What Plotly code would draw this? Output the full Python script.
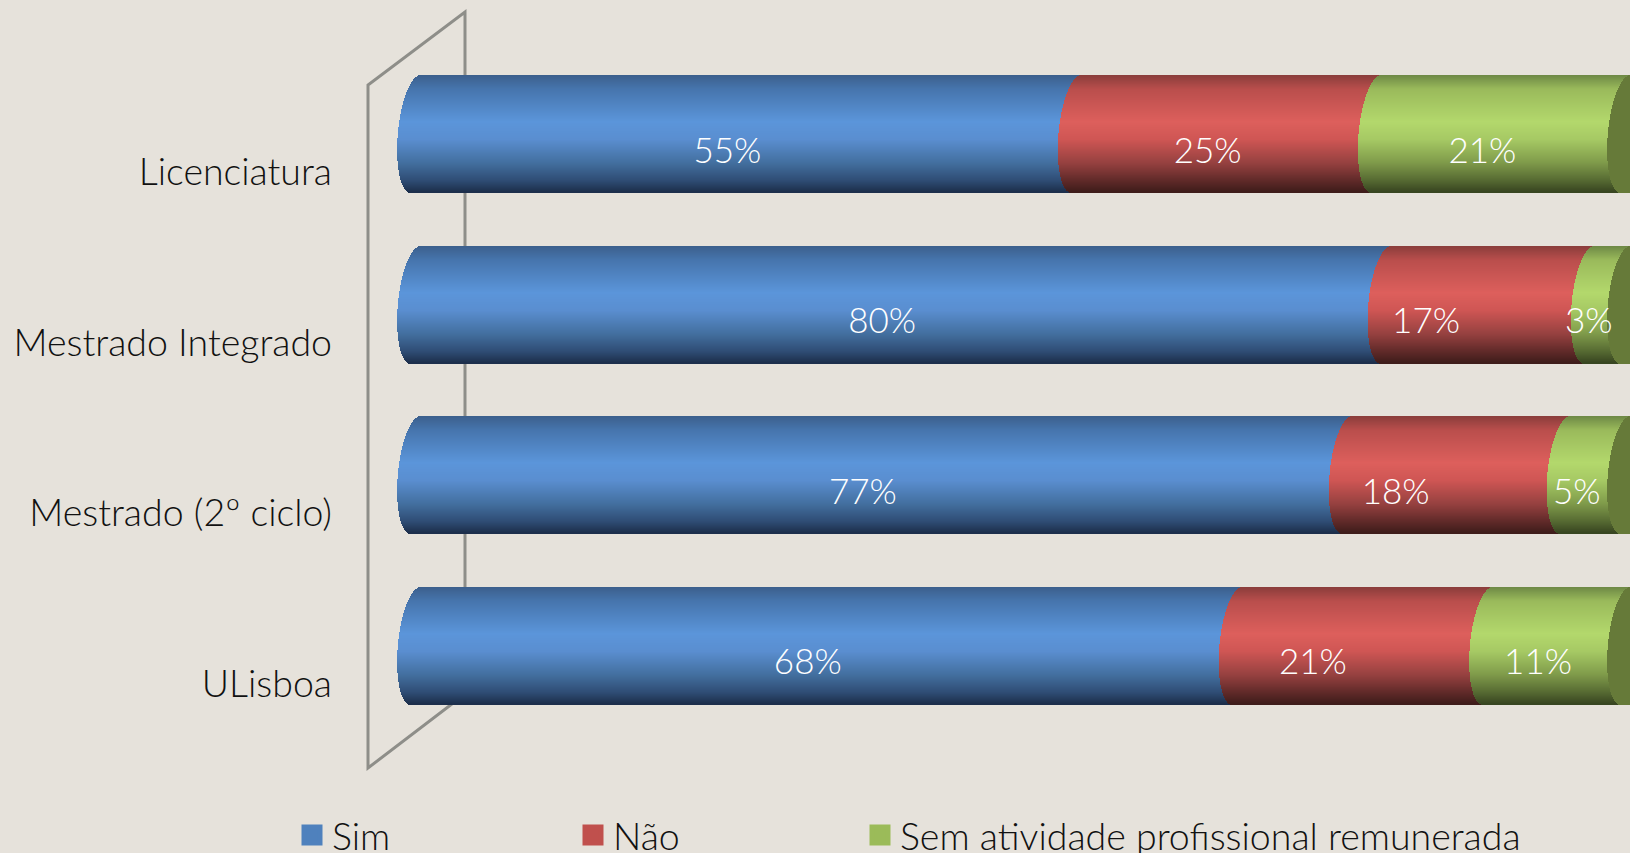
import plotly.graph_objects as go

categories = ["ULisboa", "Mestrado (2º ciclo)", "Mestrado Integrado", "Licenciatura"]
sim = [67.9, 77.0, 80.2, 54.6]
nao = [20.7, 18.0, 16.8, 24.8]
sem = [11.4, 5.0, 3.0, 20.6]
series_names = ["Sim", "Não", "Sem atividade profissional remunerada"]
legend_colors = ["#4f81bd", "#c0504d", "#9bbb59"]
# horizontal nudge of the "Não" value labels, in pixels (as placed in the reference)
nao_label_nudge = [-31, -42, -43, 0]

BG = "#e6e2db"
FONT = "Lato"
W, H = 1630, 853
PLOT_L, PLOT_H = 340, 800
X0_PX, PX_PER_UNIT = 397, 12.1
Y_TOP_IDX, PX_PER_CAT = 3 + 134.2 / 170.5, 170.5
BAR_PX = 117
CAP_COLOR = "#667a39"

# vertical gradient stops (position from bar top to bottom, colour)
gradients = [
    [(0, "#3c5f8c"), (.12, "#4675ad"), (.40, "#5b95da"), (.55, "#5a8ed0"), (.75, "#436f9f"), (.90, "#2f4d75"), (1, "#1c2e4a")],
    [(0, "#8a3d3b"), (.12, "#b94e4c"), (.40, "#dd5f5c"), (.55, "#cf5654"), (.75, "#964140"), (.90, "#612a29"), (1, "#3e1c1a")],
    [(0, "#6d8845"), (.12, "#9aba5b"), (.40, "#b3d86c"), (.55, "#a6c964"), (.75, "#7f9a4a"), (.90, "#566a32"), (1, "#374420")],
]


def mix(stops, t):
    for (p0, c0), (p1, c1) in zip(stops, stops[1:]):
        if t <= p1:
            f = (t - p0) / (p1 - p0)
            a = [int(c0[i:i + 2], 16) for i in (1, 3, 5)]
            b = [int(c1[i:i + 2], 16) for i in (1, 3, 5)]
            return "rgb(%d,%d,%d)" % tuple(round(u + (v - u) * f) for u, v in zip(a, b))
    return stops[-1][1]


def edge(t):
    """Curved (cylinder) edge offset of a bar end, in x-axis units."""
    y = 2 * t - 1
    return (0.8 + 18 * (1 - (1 - y * y) ** .5) - 5 * y) / PX_PER_UNIT


x_range = [(PLOT_L - X0_PX) / PX_PER_UNIT, (W - X0_PX) / PX_PER_UNIT]
y_range = [Y_TOP_IDX - PLOT_H / PX_PER_CAT, Y_TOP_IDX]
dy = 1 / PX_PER_CAT
bands = [(i + .5) / BAR_PX for i in range(BAR_PX)]

fig = go.Figure()
rows = list(zip(sim, nao, sem))
for s, name in enumerate(series_names):
    ys, xs, bases, cols = [], [], [], []
    for idx, row in enumerate(rows):
        start = sum(row[:s])
        for t in bands:
            off = edge(t)
            ys.append(idx + (BAR_PX / 2 - t * BAR_PX) * dy)
            bases.append(start + off)
            xs.append(row[s] + 4)
            cols.append(mix(gradients[s], t))
    fig.add_bar(orientation="h", y=ys, x=xs, base=bases, width=1.6 * dy, name=name, legendgroup=name,
                showlegend=False, hoverinfo="skip", marker=dict(color=cols, line=dict(width=0)))

# dark end cap of the cylinders
ys, xs, bases = [], [], []
for idx, row in enumerate(rows):
    for t in bands:
        ys.append(idx + (BAR_PX / 2 - t * BAR_PX) * dy)
        bases.append(sum(row) + edge(t))
        xs.append(10)
fig.add_bar(orientation="h", y=ys, x=xs, base=bases, width=1.6 * dy, showlegend=False, hoverinfo="skip",
            marker=dict(color=CAP_COLOR, line=dict(width=0)))

# data labels
lx, ly, lt = [], [], []
for idx, row in enumerate(rows):
    c = 0
    for s, v in enumerate(row):
        nudge = nao_label_nudge[idx] / PX_PER_UNIT if s == 1 else 0
        lx.append(c + v / 2 + nudge)
        ly.append(idx - 20 * dy)
        lt.append(f"{v:.0f}%")
        c += v
fig.add_scatter(x=lx, y=ly, text=lt, mode="text", showlegend=False, hoverinfo="skip", cliponaxis=False,
                textfont=dict(family=FONT, size=35, color="white", weight=300))

# legend entries, each in its own legend so they can sit at the reference's positions
legend_ids = ["legend", "legend2", "legend3"]
legend_left = [292, 573, 860]
for name, col, lid in zip(series_names, legend_colors, legend_ids):
    fig.add_scatter(x=[None], y=[None], mode="markers", name=name, legendgroup=name, legend=lid,
                    marker=dict(color=col, symbol="square", size=16, line=dict(color=col, width=5)))


def px(x):
    return (x - PLOT_L) / (W - PLOT_L)


def py(y):
    return 1 - y / PLOT_H


wall = [(465, 12), (465, 694), (368, 768), (368, 85)]
path = "M" + " L".join(f"{px(a):.5f},{py(b):.5f}" for a, b in wall) + " Z"
fig.add_shape(type="path", path=path, xref="paper", yref="paper", layer="below",
              line=dict(color="#8e8e89", width=3))


def legend_cfg(left):
    return dict(orientation="h", xref="container", x=left / W, xanchor="left", yref="container", y=(H - 835) / H,
                yanchor="middle", bgcolor="rgba(0,0,0,0)", itemwidth=30, borderwidth=0,
                font=dict(family=FONT, size=37.5, color="#111111", weight=300), itemclick=False, itemdoubleclick=False)


fig.update_layout(
    width=W, height=H, autosize=False,
    margin=dict(l=PLOT_L, r=0, t=0, b=H - PLOT_H, pad=0),
    paper_bgcolor=BG, plot_bgcolor=BG,
    barmode="overlay", bargap=0,
    font=dict(family=FONT, color="#111111"),
    xaxis=dict(range=x_range, visible=False, fixedrange=True),
    yaxis=dict(range=y_range, fixedrange=True, showgrid=False, zeroline=False, showline=False,
               tickmode="array", tickvals=[i - 38 * dy for i in range(4)], ticktext=categories,
               tickfont=dict(family=FONT, size=37.5, color="#111111", weight=300), ticks="", ticklabelstandoff=7),
    legend=legend_cfg(legend_left[0]),
    legend2=legend_cfg(legend_left[1]),
    legend3=legend_cfg(legend_left[2]),
    showlegend=True,
)

fig.write_html("out.html", post_script="document.body.style.margin='0';document.body.style.overflow='hidden';",
               config={"displayModeBar": False})
